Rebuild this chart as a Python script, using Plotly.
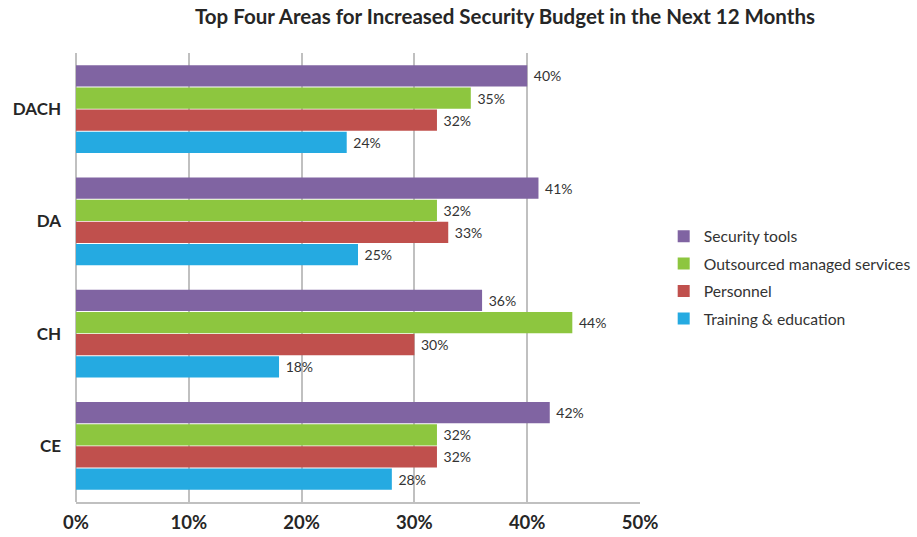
import plotly.graph_objects as go

# Regions, listed top to bottom
regions = ["DACH", "DA", "CH", "CE"]

# Share of respondents (%) per budget area, aligned with `regions`
security_tools = [40, 41, 36, 42]
outsourced_services = [35, 32, 44, 32]
personnel = [32, 33, 30, 32]
training_education = [24, 25, 18, 28]

x_ticks = [0, 10, 20, 30, 40, 50]

# First series sits at the top of each group (the y axis is reversed)
series = [
    ("Security tools", security_tools, "#8064A2"),
    ("Outsourced managed services", outsourced_services, "#8DC63F"),
    ("Personnel", personnel, "#C0504D"),
    ("Training & education", training_education, "#25AAE1"),
]

font_family = "Lato, 'Open Sans', sans-serif"

fig = go.Figure()
for name, values, color in series:
    fig.add_trace(go.Bar(
        y=regions,
        x=values,
        name=name,
        legendgroup=name,
        orientation="h",
        marker=dict(color=color, line=dict(width=0)),
        text=[f"\u00a0{v}%" for v in values],
        textposition="outside",
        textfont=dict(size=14, color="#333333", family=font_family),
        cliponaxis=False,
    ))

fig.update_layout(
    width=917,
    height=537,
    margin=dict(l=76, r=277, t=53, b=35, autoexpand=False),
    paper_bgcolor="white",
    plot_bgcolor="white",
    barmode="group",
    bargap=0.21,
    bargroupgap=0.04,
    font=dict(family=font_family, color="#262626"),
    title=dict(
        text="<b>Top Four Areas for Increased Security Budget in the Next 12 Months</b>",
        x=505 / 917,
        xanchor="center",
        y=1 - 17 / 537,
        yanchor="middle",
        font=dict(size=20.5, color="#262626", family=font_family),
    ),
    showlegend=True,
    legend=dict(
        traceorder="grouped",
        x=1.042,
        xanchor="left",
        y=0.5,
        yanchor="middle",
        font=dict(size=15.7, color="#333333", family=font_family),
        itemsizing="constant",
        tracegroupgap=4,
        bgcolor="rgba(0,0,0,0)",
    ),
    xaxis=dict(
        range=[0, 50],
        tickvals=x_ticks,
        ticktext=[f"<b>{t}%</b>" for t in x_ticks],
        showgrid=True,
        gridcolor="#C0C0C0",
        gridwidth=1.5,
        zeroline=True,
        zerolinecolor="#C0C0C0",
        zerolinewidth=1.5,
        showline=True,
        linecolor="#C0C0C0",
        linewidth=2,
        ticks="outside",
        ticklen=3,
        tickcolor="rgba(0,0,0,0)",
        tickfont=dict(size=18.5, color="#262626", family=font_family),
        fixedrange=True,
    ),
    yaxis=dict(
        categoryorder="array",
        categoryarray=regions,
        autorange="reversed",
        showgrid=False,
        zeroline=False,
        showline=False,
        ticks="",
        ticklabelstandoff=14,
        tickfont=dict(size=17, color="#262626", family=font_family),
        tickprefix="<b>",
        ticksuffix="</b>",
        fixedrange=True,
    ),
)

fig.write_html("out.html")
